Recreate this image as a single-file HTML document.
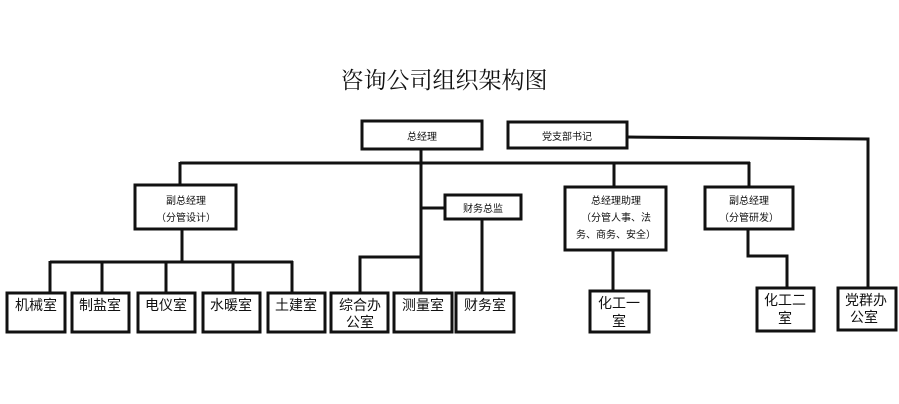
<!DOCTYPE html>
<html><head><meta charset="utf-8"><style>
html,body{margin:0;padding:0;background:#fff;width:899px;height:404px;overflow:hidden}
svg{display:block}
text{font-family:"Liberation Sans","Noto Sans CJK SC","WenQuanYi Zen Hei",sans-serif;fill:#111}
.s{font-size:10px}
.b{font-size:14px}
.t{font-family:"Liberation Serif","Noto Serif CJK SC",serif}
</style></head><body>
<svg width="899" height="404" viewBox="0 0 899 404">
<g fill="none" stroke="#111" stroke-width="3">
<line x1="180" y1="163" x2="750" y2="163"/>
<line x1="180" y1="162" x2="180" y2="185"/>
<line x1="421" y1="149" x2="421" y2="293"/>
<line x1="182" y1="229" x2="182" y2="262"/>
<line x1="50" y1="262" x2="293" y2="262"/>
<line x1="50" y1="261" x2="50" y2="293"/>
<line x1="102" y1="261" x2="102" y2="293"/>
<line x1="166" y1="261" x2="166" y2="293"/>
<line x1="233" y1="261" x2="233" y2="293"/>
<line x1="292" y1="261" x2="292" y2="293"/>
<polyline points="421,257 360,257 360,293"/>
<line x1="421" y1="208" x2="445" y2="208"/>
<line x1="482" y1="219" x2="482" y2="293"/>
<line x1="614" y1="162" x2="614" y2="187"/>
<line x1="613" y1="250" x2="613" y2="291"/>
<line x1="749" y1="162" x2="749" y2="187"/>
<polyline points="748,229 748,256 787,256 787,288"/>
<polyline points="627,137 868,139 868,288"/>
</g>
<g fill="#fff" stroke="#111" stroke-width="3">
<rect x="362" y="121" width="120" height="28"/>
<rect x="508" y="122" width="119" height="26"/>
<rect x="135" y="185" width="101" height="44"/>
<rect x="445" y="195" width="76" height="24"/>
<rect x="565" y="187" width="101" height="63"/>
<rect x="705" y="187" width="88" height="42"/>
<rect x="7" y="293" width="58" height="39"/>
<rect x="72" y="293" width="57" height="39"/>
<rect x="138" y="293" width="57" height="39"/>
<rect x="203" y="293" width="57" height="39"/>
<rect x="268" y="293" width="57" height="39"/>
<rect x="331" y="293" width="57" height="39"/>
<rect x="394" y="293" width="58" height="39"/>
<rect x="456" y="293" width="58" height="39"/>
<rect x="590" y="291" width="59" height="41"/>
<rect x="757" y="288" width="57" height="43"/>
<rect x="838" y="288" width="58" height="42"/>
</g>
<text class="t" x="444" y="88" font-size="23" text-anchor="middle">咨询公司组织架构图</text>
<g class="s" text-anchor="middle">
<text x="422" y="140">总经理</text>
<text x="567" y="140">党支部书记</text>
<text x="186" y="204">副总经理</text>
<text x="186" y="221">（分管设计）</text>
<text x="483" y="212">财务总监</text>
<text x="616" y="204">总经理助理</text>
<text x="616" y="221">（分管人事、法</text>
<text x="616" y="238">务、商务、安全）</text>
<text x="749" y="204">副总经理</text>
<text x="749" y="221">（分管研发）</text>
</g>
<g class="b" text-anchor="middle">
<text x="36" y="310">机械室</text>
<text x="100" y="310">制盐室</text>
<text x="166" y="310">电仪室</text>
<text x="231" y="310">水暖室</text>
<text x="296" y="310">土建室</text>
<text x="360" y="310">综合办</text>
<text x="360" y="327">公室</text>
<text x="423" y="310">测量室</text>
<text x="485" y="310">财务室</text>
<text x="619" y="308">化工一</text>
<text x="619" y="326">室</text>
<text x="785" y="305">化工二</text>
<text x="785" y="323">室</text>
<text x="866" y="305">党群办</text>
<text x="864" y="322">公室</text>
</g>
</svg>
</body></html>
